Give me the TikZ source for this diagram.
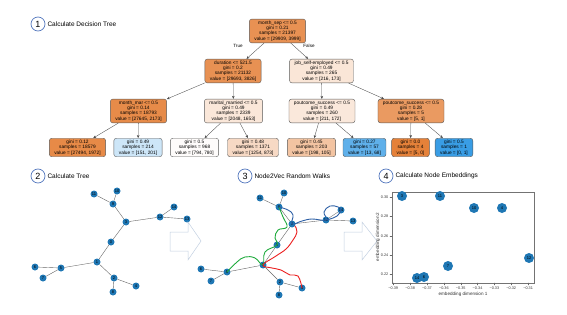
\documentclass[tikz,border=0pt]{standalone}
\usepackage{fontspec}
\setmainfont{Liberation Sans}
\usetikzlibrary{arrows.meta,calc,positioning}
\definecolor{treeorange}{RGB}{229,129,57}
\definecolor{treeblue}{RGB}{57,157,229}
\definecolor{nxblue}{RGB}{31,119,180}
\definecolor{circblue}{RGB}{84,120,190}
\definecolor{walkgreen}{RGB}{30,170,60}
\definecolor{walkred}{RGB}{235,30,30}
\definecolor{walkblue}{RGB}{45,95,165}
\definecolor{flowgray}{RGB}{195,208,225}

\begin{document}
\begin{tikzpicture}[x=1pt,y=-1pt,line cap=round,
 stepnum/.style={circle,draw=circblue,line width=.7pt,minimum size=14pt,inner sep=0pt,font=\fontsize{9}{9}\selectfont},
 steptitle/.style={inner sep=0pt,font=\fontsize{6.5}{7}\selectfont},
 split/.style={draw=black!65,line width=.4pt,rounded corners=2.5pt,align=center,
  font=\fontsize{4.8}{5.4}\selectfont,inner xsep=5pt,inner ysep=1.6pt},
 treeedge/.style={-{Stealth[length=3pt,width=2.6pt]},black!70,line width=.35pt},
 edgelab/.style={inner sep=0pt,font=\fontsize{4.6}{5}\selectfont},
 gnode/.style={circle,fill=nxblue,minimum size=7pt,inner sep=0pt,font=\fontsize{4}{4}\selectfont},
 gedge/.style={black!60,line width=.4pt},
 walk/.style={line width=.9pt},
 flowarrow/.style={draw=flowgray,line width=.5pt,fill=white},
 embpt/.style={circle,fill=nxblue,minimum size=10pt,inner sep=0pt,font=\fontsize{4}{4}\selectfont},
 ticklab/.style={inner sep=0pt,font=\fontsize{3.8}{4}\selectfont,text=black!80},
 axlab/.style={inner sep=0pt,font=\fontsize{4.6}{5}\selectfont,text=black!80}]
\useasboundingbox (0,0) rectangle (567,315);

% step headers
\node[stepnum] (num1) at (38,24) {1};
\node[steptitle,right=2pt of num1] (title1) {Calculate Decision Tree};
\node[stepnum] (num2) at (38,176) {2};
\node[steptitle,right=2pt of num2] (title2) {Calculate Tree};
\node[stepnum] (num3) at (245,176) {3};
\node[steptitle,right=2pt of num3] (title3) {Node2Vec Random Walks};
\node[stepnum] (num4) at (386,176) {4};
\node[steptitle,right=2pt of num4] (title4) {Calculate Node Embeddings};

% decision tree
\node[split,fill=treeorange!87] (root) at (277.5,31)
 {month\_sep <= 0.5\\gini = 0.21\\samples = 21397\\value = [29909, 3999]};
\node[split,fill=treeorange!87] (dur) at (233,71)
 {duration <= 521.5\\gini = 0.2\\samples = 21132\\value = [29693, 3826]};
\node[split,fill=treeorange!20] (job) at (321.5,71)
 {job\_self-employed <= 0.5\\gini = 0.49\\samples = 265\\value = [216, 173]};
\node[split,fill=treeorange!92] (mar) at (138.5,111)
 {month\_mar <= 0.5\\gini = 0.14\\samples = 18793\\value = [27645, 2173]};
\node[split,fill=treeorange!19] (marital) at (233.5,111)
 {marital\_married <= 0.5\\gini = 0.49\\samples = 2339\\value = [2048, 1653]};
\node[split,fill=treeorange!18] (pout) at (322,111)
 {poutcome\_success <= 0.5\\gini = 0.49\\samples = 260\\value = [211, 172]};
\node[split,fill=treeorange!80] (poutb) at (411,111)
 {poutcome\_success <= 0.5\\gini = 0.28\\samples = 5\\value = [5, 1]};
\node[split,fill=treeorange!93] (leafa) at (77.5,147.5) {gini = 0.12\\samples = 18579\\value = [27494, 1972]};
\node[split,fill=treeblue!25] (leafb) at (138,147.5) {gini = 0.49\\samples = 214\\value = [151, 201]};
\node[split,fill=treeorange!2] (leafc) at (194.5,147.5) {gini = 0.5\\samples = 968\\value = [794, 780]};
\node[split,fill=treeorange!30] (leafd) at (253,147.5) {gini = 0.48\\samples = 1371\\value = [1254, 873]};
\node[split,fill=treeorange!47] (leafe) at (311.5,147.5) {gini = 0.45\\samples = 203\\value = [198, 105]};
\node[split,fill=treeblue!81] (leaff) at (364.5,147.5) {gini = 0.27\\samples = 57\\value = [13, 68]};
\node[split,fill=treeorange] (leafg) at (410.5,147.5) {gini = 0.0\\samples = 4\\value = [5, 0]};
\node[split,fill=treeblue] (leafh) at (454,147.5) {gini = 0.5\\samples = 1\\value = [0, 1]};
\foreach \a/\b in {root/dur,root/job,dur/mar,dur/marital,job/pout,job/poutb,
 mar/leafa,mar/leafb,marital/leafc,marital/leafd,pout/leafe,pout/leaff,poutb/leafg,poutb/leafh}
 \draw[treeedge] (\a) -- (\b);
\node[edgelab] (ltrue) at (238,46) {True};
\node[edgelab] (lfalse) at (309,46) {False};

% tree of step 2
\foreach \n/\x/\y in {0/111/242,1/97/262,2/114/278,3/126/222,4/136/286,5/61/268,6/35/267,7/43/278,
 8/113/292,9/113/204,10/117/191,11/94/194,12/160/217,13/187/219,14/174/207}
 \node[gnode] (a\n) at (\x,\y) {\n};
\foreach \u/\v in {11/9,10/9,9/3,3/12,12/14,12/13,3/0,0/1,1/5,5/6,5/7,1/2,2/4,2/8}
 \draw[gedge] (a\u) -- (a\v);

% walks of step 3
\foreach \n/\x/\y in {0/277/245,1/263/265,2/280/282,3/292/224,4/302/288,5/227/272,6/201/269,7/211/281,
 8/279/295,9/279/207,10/284/193,11/260/198,12/326/220,13/353/221,14/341/210}
 \node[gnode] (b\n) at (\x,\y) {\n};
\foreach \u/\v in {11/9,10/9,9/3,3/12,12/14,12/13,3/0,0/1,1/5,5/6,5/7,1/2,2/4,2/8}
 \draw[gedge] (b\u) -- (b\v);
\draw[walk,walkgreen] plot[smooth,tension=.7] coordinates {(b9.center) (283,217) (287,227)
 (278,230) (275,238) (b0.center) (265,252) (b1.center) (255,258) (245,257) (237,262) (b5.center)};
\draw[walk,walkred] plot[smooth,tension=.7] coordinates {(295,226) (297,232) (293,240)
 (286,249) (276,256) (b1.center) (272,268) (281,270) (290,275) (298,276) (b4.center)};
\draw[walk,walkblue] plot[smooth,tension=.7] coordinates {(b9.center) (288,210) (293,215)
 (b3.center) (302,221) (312,219) (b12.center) (324,212) (330,206) (338,207) (b14.center)
 (337,216) (330,219) (b12.center)};

% flow arrows
\draw[flowarrow] (170,232) -- (188,232) -- (188,222) -- (201,241) -- (188,260) -- (188,251)
 -- (170,251) -- cycle;
\draw[flowarrow] (344,232) -- (362,232) -- (362,222) -- (377,241) -- (362,260) -- (362,251)
 -- (344,251) -- cycle;

% embedding plot
\draw[black!55,line width=.5pt] (392,192) rectangle (534,283);
\foreach \t [count=\i from 0] in {−0.39,−0.38,−0.37,−0.36,−0.35,−0.34,−0.33,−0.32,−0.31}{
 \draw[black!60,line width=.3pt] ({393.3+16.85*\i},283) -- ({393.3+16.85*\i},285);
 \node[ticklab,anchor=north] at ({393.3+16.85*\i},286.5) {\t};
}
\foreach \t [count=\i from 0] in {0.30,0.28,0.26,0.24,0.22}{
 \draw[black!60,line width=.3pt] (392,{197.3+19.2*\i}) -- (390,{197.3+19.2*\i});
 \node[ticklab,anchor=east] at (388.5,{197.3+19.2*\i}) {\t};
}
\node[axlab] (xlab) at (463,294) {embedding dimension 1};
\node[axlab,rotate=90] (ylab) at (378,237) {embedding dimension 2};
\foreach \n/\x/\y in {3/402/196,11/440/196,10/474/208,4/502/208,12/529/258,7/448/266,14/417/278,6/424/277}
 \node[embpt] (e\n) at (\x,\y) {\n};
\end{tikzpicture}
\end{document}
